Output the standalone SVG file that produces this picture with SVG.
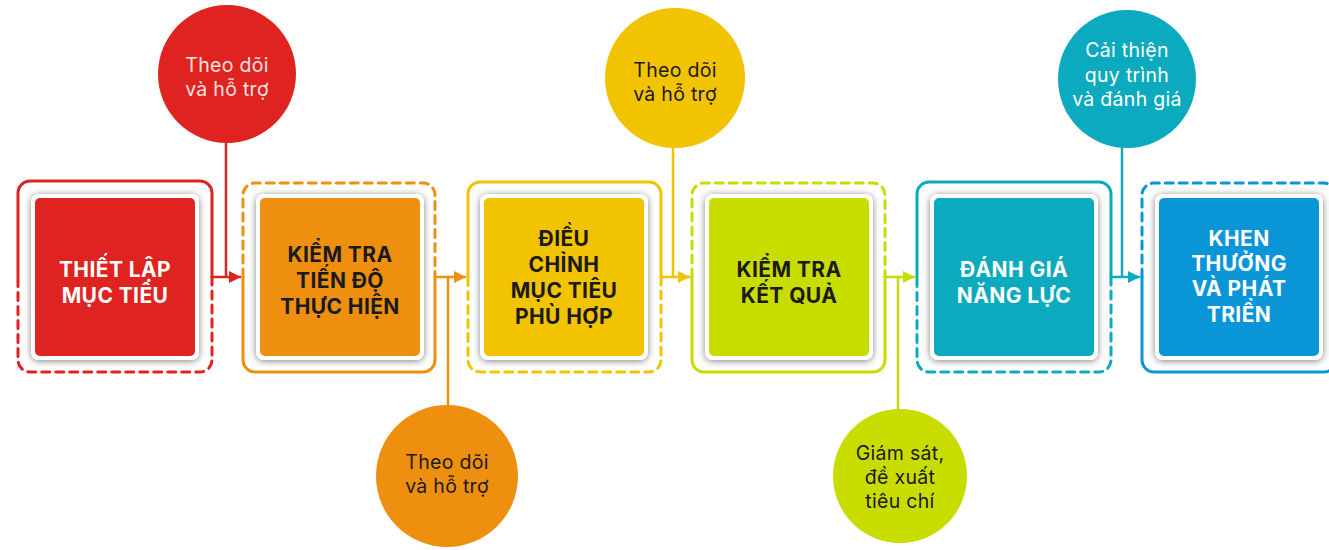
<svg xmlns="http://www.w3.org/2000/svg" width="1329" height="550" viewBox="0 0 1329 550">
<defs>
<filter id="sh" x="-20%" y="-20%" width="140%" height="140%">
<feDropShadow dx="0" dy="1" stdDeviation="3.5" flood-color="#000" flood-opacity="0.5"/>
</filter>
<marker id="a1" viewBox="0 0 10 10" refX="10" refY="5" markerWidth="12" markerHeight="12" orient="auto" markerUnits="userSpaceOnUse"><path d="M0,0 L10,5 L0,10 z" fill="#DE2320"/></marker>
<marker id="a2" viewBox="0 0 10 10" refX="10" refY="5" markerWidth="12" markerHeight="12" orient="auto" markerUnits="userSpaceOnUse"><path d="M0,0 L10,5 L0,10 z" fill="#EE8F10"/></marker>
<marker id="a3" viewBox="0 0 10 10" refX="10" refY="5" markerWidth="12" markerHeight="12" orient="auto" markerUnits="userSpaceOnUse"><path d="M0,0 L10,5 L0,10 z" fill="#F2C300"/></marker>
<marker id="a4" viewBox="0 0 10 10" refX="10" refY="5" markerWidth="12" markerHeight="12" orient="auto" markerUnits="userSpaceOnUse"><path d="M0,0 L10,5 L0,10 z" fill="#C8DC00"/></marker>
<marker id="a5" viewBox="0 0 10 10" refX="10" refY="5" markerWidth="12" markerHeight="12" orient="auto" markerUnits="userSpaceOnUse"><path d="M0,0 L10,5 L0,10 z" fill="#0CAABE"/></marker>
</defs>
<style>
.fr{fill:none;stroke-width:3;stroke-linecap:round}
.ds{stroke-dasharray:8 6}
.con{fill:none;stroke-width:2.5}
.wb{fill:#fff;filter:url(#sh)}
.bt{font-family:Inter,"Noto Sans",sans-serif;font-weight:700;font-size:21px;letter-spacing:0.4px;text-anchor:middle}
.ct{font-family:Inter,"Noto Sans",sans-serif;font-weight:400;font-size:19.5px;letter-spacing:0.3px;text-anchor:middle}
.w{fill:#fff}
.k{fill:#1a1a1a}
</style>
<rect width="1329" height="550" fill="#fff"/>

<g id="connectors">
<path class="con" stroke="#DE2320" d="M212,277 H241" marker-end="url(#a1)"/>
<path class="con" stroke="#DE2320" d="M226,140 V277"/>
<path class="con" stroke="#EE8F10" d="M435,277 H466" marker-end="url(#a2)"/>
<path class="con" stroke="#EE8F10" d="M448,277 V406"/>
<path class="con" stroke="#F2C300" d="M661,277 H690" marker-end="url(#a3)"/>
<path class="con" stroke="#F2C300" d="M673,147 V277"/>
<path class="con" stroke="#C8DC00" d="M885,277 H915" marker-end="url(#a4)"/>
<path class="con" stroke="#C8DC00" d="M898,277 V410"/>
<path class="con" stroke="#0CAABE" d="M1111,277 H1140" marker-end="url(#a5)"/>
<path class="con" stroke="#0CAABE" d="M1122,147 V277"/>
</g>

<g id="node1">
<path class="fr" stroke="#DE2320" d="M18,277 V193 A12,12 0 0 1 30,181 H200 A12,12 0 0 1 212,193 V277"/>
<path class="fr ds" stroke="#DE2320" d="M212,277 V360 A12,12 0 0 1 200,372 H30 A12,12 0 0 1 18,360 V277"/>
<rect class="wb" x="31" y="194" width="168" height="166" rx="8"/>
<rect x="35" y="198" width="160" height="158" rx="5" fill="#DE2320"/>
<text class="bt w" x="115" y="277">THIẾT LẬP</text>
<text class="bt w" x="115" y="303">MỤC TIÊU</text>
</g>

<g id="node2">
<path class="fr ds" stroke="#EE8F10" d="M243,277 V195 A12,12 0 0 1 255,183 H423 A12,12 0 0 1 435,195 V277"/>
<path class="fr" stroke="#EE8F10" d="M435,277 V360 A12,12 0 0 1 423,372 H255 A12,12 0 0 1 243,360 V277"/>
<rect class="wb" x="256" y="194" width="168" height="166" rx="8"/>
<rect x="260" y="198" width="160" height="158" rx="5" fill="#EE8F10"/>
<text class="bt k" x="340" y="262">KIỂM TRA</text>
<text class="bt k" x="340" y="288">TIẾN ĐỘ</text>
<text class="bt k" x="340" y="314">THỰC HIỆN</text>
</g>

<g id="node3">
<path class="fr" stroke="#F2C300" d="M468,277 V194 A12,12 0 0 1 480,182 H649 A12,12 0 0 1 661,194 V277"/>
<path class="fr ds" stroke="#F2C300" d="M661,277 V360 A12,12 0 0 1 649,372 H480 A12,12 0 0 1 468,360 V277"/>
<rect class="wb" x="480" y="194" width="168" height="166" rx="8"/>
<rect x="484" y="198" width="160" height="158" rx="5" fill="#F2C300"/>
<text class="bt k" x="564" y="246">ĐIỀU</text>
<text class="bt k" x="564" y="272">CHỈNH</text>
<text class="bt k" x="564" y="298">MỤC TIÊU</text>
<text class="bt k" x="564" y="324">PHÙ HỢP</text>
</g>

<g id="node4">
<path class="fr ds" stroke="#C8DC00" d="M692,277 V195 A12,12 0 0 1 704,183 H873 A12,12 0 0 1 885,195 V277"/>
<path class="fr" stroke="#C8DC00" d="M885,277 V360 A12,12 0 0 1 873,372 H704 A12,12 0 0 1 692,360 V277"/>
<rect class="wb" x="705" y="194" width="168" height="166" rx="8"/>
<rect x="709" y="198" width="160" height="158" rx="5" fill="#C8DC00"/>
<text class="bt k" x="789" y="277">KIỂM TRA</text>
<text class="bt k" x="789" y="303">KẾT QUẢ</text>
</g>

<g id="node5">
<path class="fr" stroke="#0CAABE" d="M917,277 V194 A12,12 0 0 1 929,182 H1099 A12,12 0 0 1 1111,194 V277"/>
<path class="fr ds" stroke="#0CAABE" d="M1111,277 V360 A12,12 0 0 1 1099,372 H929 A12,12 0 0 1 917,360 V277"/>
<rect class="wb" x="930" y="194" width="168" height="166" rx="8"/>
<rect x="934" y="198" width="160" height="158" rx="5" fill="#0CAABE"/>
<text class="bt w" x="1014" y="277">ĐÁNH GIÁ</text>
<text class="bt w" x="1014" y="303">NĂNG LỰC</text>
</g>

<g id="node6">
<path class="fr ds" stroke="#0A95D7" d="M1142,277 V195 A12,12 0 0 1 1154,183 H1324 A12,12 0 0 1 1336,195 V277"/>
<path class="fr" stroke="#0A95D7" d="M1336,277 V360 A12,12 0 0 1 1324,372 H1154 A12,12 0 0 1 1142,360 V277"/>
<rect class="wb" x="1155" y="194" width="168" height="166" rx="8"/>
<rect x="1159" y="198" width="160" height="158" rx="5" fill="#0A95D7"/>
<text class="bt w" x="1239" y="246">KHEN</text>
<text class="bt w" x="1239" y="271">THƯỞNG</text>
<text class="bt w" x="1239" y="296">VÀ PHÁT</text>
<text class="bt w" x="1239" y="322">TRIỂN</text>
</g>

<g id="circle1">
<circle cx="227" cy="74" r="69" fill="#DE2320"/>
<text class="ct" x="227" y="72" fill="#fbe3e2">Theo dõi</text>
<text class="ct" x="227" y="96" fill="#fbe3e2">và hỗ trợ</text>
</g>
<g id="circle2">
<circle cx="447" cy="476" r="71" fill="#EE8F10"/>
<text class="ct k" x="447" y="469">Theo dõi</text>
<text class="ct k" x="447" y="493">và hỗ trợ</text>
</g>
<g id="circle3">
<circle cx="675" cy="78" r="70" fill="#F2C300"/>
<text class="ct k" x="675" y="77">Theo dõi</text>
<text class="ct k" x="675" y="101">và hỗ trợ</text>
</g>
<g id="circle4">
<circle cx="900" cy="476" r="67" fill="#C8DC00"/>
<text class="ct k" x="900" y="460">Giám sát,</text>
<text class="ct k" x="900" y="484">đề xuất</text>
<text class="ct k" x="900" y="508">tiêu chí</text>
</g>
<g id="circle5">
<circle cx="1127" cy="79" r="69" fill="#0CAABE"/>
<text class="ct w" x="1127" y="57">Cải thiện</text>
<text class="ct w" x="1127" y="82">quy trình</text>
<text class="ct w" x="1127" y="106">và đánh giá</text>
</g>
</svg>
